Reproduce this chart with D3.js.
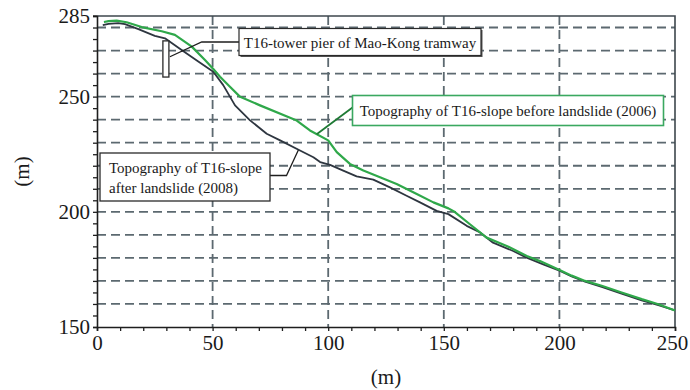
<!DOCTYPE html>
<html>
<head>
<meta charset="utf-8">
<script src="https://cdn.jsdelivr.net/npm/d3@7"></script>
<style>
  html, body { margin: 0; padding: 0; background: #ffffff; }
  svg { display: block; }
  text { font-family: "Liberation Serif", "Times New Roman", serif; fill: #1a1a1a; }
</style>
</head>
<body>
<svg id="chart" width="690" height="390"></svg>
<script>
// Slope profile before the landslide (2006): horizontal distance (m) and elevation (m)
const beforeDist = [3, 5, 8.5, 12.8, 19.3, 28, 33.7, 41, 46.7, 50.3, 53.2, 57.5, 61.9, 70.5, 83.5, 86.4,
  92.1, 100, 103.7, 109.4, 115.2, 122.4, 129.6, 138.3, 145.5, 152, 154.8, 161.3, 168.5, 177.2, 185.9,
  191.6, 200.3, 205.3, 211.1, 218.3, 226.9, 235.6, 242.8, 250];
const beforeElev = [282.4, 282.8, 283, 282.3, 280.2, 278.4, 276.8, 271.7, 265.9, 262, 258.6, 254.3, 249.9,
  246.2, 240.8, 239.6, 235.3, 231, 225.9, 220.8, 217.9, 215, 212.1, 207.7, 204.1, 201.5, 199.9, 194.6,
  188.8, 185.2, 180.8, 178.6, 174.6, 172.3, 170, 167.9, 165, 162.1, 159.9, 157.2];

// Slope profile after the landslide (2008)
const afterDist = [2.5, 5, 9.2, 12.1, 17.9, 25, 29.4, 36.6, 43.8, 50.3, 54.6, 59.7, 66.2, 73.4, 79.2,
  87.8, 93.6, 96.5, 100.8, 106.5, 112.3, 119.5, 126.7, 133.9, 139.7, 146.9, 152, 159.9, 165.7, 171.3,
  180, 185.8, 193, 200.3, 205.3, 211.1, 218.3, 226.9, 235.6, 242.8, 250];
const afterElev = [281, 281.6, 281.9, 281.5, 279.3, 276.4, 275.3, 270.2, 265.2, 260.8, 255, 246.2, 239.7,
  233.9, 231, 226.6, 223.7, 221.6, 220.4, 217.9, 215.4, 214, 210.6, 207, 204.1, 200.4, 199, 193.9, 191,
  186.6, 183, 180.1, 177.2, 174.3, 172, 169.7, 167.4, 164.5, 161.6, 159.5, 157.2];

// Axis tick labels and grid positions
const xTickLabels = [0, 50, 100, 150, 200, 250];
const xMinorTicks = d3.range(0, 251, 10);
const xGridLines = [50, 100, 150, 200];
const yTickLabels = [150, 200, 250, 285];
const yMinorTicks = d3.range(150, 286, 5);
const yGridLines = d3.range(160, 281, 10);

// Annotation texts and their anchor points (in data units)
const pierLabel = "T16-tower pier of Mao-Kong tramway";
const pierRange = { x0: 28.5, x1: 31.1, y0: 258.5, y1: 274.2 };
const beforeLabel = "Topography of T16-slope before landslide (2006)";
const beforeAnchor = { x: 95, y: 233.7 };
const afterLabel = ["Topography of T16-slope", "after landslide (2008)"];
const afterAnchor = { x: 87.1, y: 226.8 };

const svg = d3.select("#chart");
const plotLeft = 97, plotRight = 675, plotTop = 16, plotBottom = 327;

const x = d3.scaleLinear().domain([0, 250]).range([plotLeft, plotRight]);
const y = d3.scaleLinear().domain([150, 285]).range([plotBottom, plotTop]);

const gridColor = "#5c6970";
const green = "#2fa84a";
const dark = "#2e3640";

// Dashed grid
svg.append("g").selectAll("line").data(yGridLines).join("line")
  .attr("x1", plotLeft).attr("x2", plotRight)
  .attr("y1", d => y(d)).attr("y2", d => y(d))
  .attr("stroke", gridColor).attr("stroke-width", 1.8).attr("stroke-dasharray", "9,5");
svg.append("g").selectAll("line").data(xGridLines).join("line")
  .attr("x1", d => x(d)).attr("x2", d => x(d))
  .attr("y1", plotTop).attr("y2", plotBottom)
  .attr("stroke", gridColor).attr("stroke-width", 1.8).attr("stroke-dasharray", "9,5");

// Top and right frame
svg.append("path")
  .attr("d", `M${plotLeft},${plotTop}H${plotRight}V${plotBottom}`)
  .attr("fill", "none").attr("stroke", "#3e474d").attr("stroke-width", 1.6);

// Axes
const xAxis = svg.append("g").attr("transform", `translate(0,${plotBottom})`)
  .call(d3.axisBottom(x).tickValues(xMinorTicks).tickSize(4)
    .tickFormat(d => xTickLabels.includes(d) ? d : ""));
const yAxis = svg.append("g").attr("transform", `translate(${plotLeft},0)`)
  .call(d3.axisLeft(y).tickValues(yMinorTicks).tickSize(4)
    .tickFormat(d => yTickLabels.includes(d) ? d : ""));
[xAxis, yAxis].forEach(g => {
  g.select(".domain").attr("stroke", "#1e1e1e").attr("stroke-width", 1.6);
  g.selectAll(".tick line").attr("stroke", "#1e1e1e").attr("stroke-width", 1.3);
  g.selectAll(".tick text").attr("font-family", "Liberation Serif, Times New Roman, serif")
    .attr("font-size", 21).attr("fill", "#1a1a1a");
});
// Extra tick mark at the top of the y axis
yAxis.append("line").attr("x1", -4).attr("x2", 0).attr("y1", y(285)).attr("y2", y(285))
  .attr("stroke", "#1e1e1e").attr("stroke-width", 1.3);
xAxis.selectAll(".tick text").attr("dy", "0.95em").attr("y", 3)
  .attr("dx", d => d === 250 ? -3 : 0);
yAxis.selectAll(".tick text").attr("x", -7);

// Axis titles
svg.append("text").attr("x", x(125)).attr("y", 384).attr("text-anchor", "middle")
  .attr("font-size", 21).text("(m)");
svg.append("text").attr("transform", `translate(29,${(plotTop + plotBottom) / 2}) rotate(-90)`)
  .attr("text-anchor", "middle").attr("font-size", 21).text("(m)");

// Profiles
const line = d3.line().x(d => x(d[0])).y(d => y(d[1])).curve(d3.curveLinear);
const afterPts = d3.zip(afterDist, afterElev);
const beforePts = d3.zip(beforeDist, beforeElev);
svg.append("path").datum(afterPts).attr("d", line)
  .attr("fill", "none").attr("stroke", dark).attr("stroke-width", 1.8).attr("stroke-linejoin", "round");
svg.append("path").datum(beforePts).attr("d", line)
  .attr("fill", "none").attr("stroke", green).attr("stroke-width", 2.2).attr("stroke-linejoin", "round");

// Tower pier marker
svg.append("rect")
  .attr("x", x(pierRange.x0)).attr("y", y(pierRange.y1))
  .attr("width", x(pierRange.x1) - x(pierRange.x0)).attr("height", y(pierRange.y0) - y(pierRange.y1))
  .attr("fill", "#ffffff").attr("stroke", "#2a2a2a").attr("stroke-width", 1.3);

// Pier annotation
const box1 = { x: 239, y: 28.5, w: 242, h: 27 };
svg.append("path")
  .attr("d", `M${box1.x},${box1.y + 13.5}H${x(45.3)}L${x(pierRange.x1) + 1},${y(267.3)}`)
  .attr("fill", "none").attr("stroke", "#1e1e1e").attr("stroke-width", 1.3);
svg.append("rect").attr("x", box1.x + 1.5).attr("y", box1.y + 1.5).attr("width", box1.w).attr("height", box1.h)
  .attr("fill", "#555");
svg.append("rect").attr("x", box1.x).attr("y", box1.y).attr("width", box1.w).attr("height", box1.h)
  .attr("fill", "#ffffff").attr("stroke", "#2a2a2a").attr("stroke-width", 1.2);
svg.append("text").attr("x", box1.x + box1.w / 2).attr("y", box1.y + 19)
  .attr("text-anchor", "middle").attr("font-size", 15).text(pierLabel);

// Before-landslide annotation
const box2 = { x: 352.5, y: 95.5, w: 311, h: 30 };
svg.append("line")
  .attr("x1", box2.x).attr("y1", box2.y + 12)
  .attr("x2", x(beforeAnchor.x)).attr("y2", y(beforeAnchor.y))
  .attr("stroke", "#1f7a35").attr("stroke-width", 1.8);
svg.append("rect").attr("x", box2.x).attr("y", box2.y).attr("width", box2.w).attr("height", box2.h)
  .attr("fill", "#ffffff").attr("stroke", "#3aa860").attr("stroke-width", 1.6);
svg.append("text").attr("x", box2.x + box2.w / 2).attr("y", box2.y + 20)
  .attr("text-anchor", "middle").attr("font-size", 15).text(beforeLabel);

// After-landslide annotation
const box3 = { x: 100, y: 153, w: 170, h: 48 };
svg.append("path")
  .attr("d", `M${box3.x + box3.w},${box3.y + 22.5}H${box3.x + box3.w + 16.5}L${x(afterAnchor.x)},${y(afterAnchor.y)}`)
  .attr("fill", "none").attr("stroke", "#1e1e1e").attr("stroke-width", 1.3);
svg.append("rect").attr("x", box3.x).attr("y", box3.y).attr("width", box3.w).attr("height", box3.h)
  .attr("fill", "#ffffff").attr("stroke", "#2a2a2a").attr("stroke-width", 1.3);
svg.append("text").attr("font-size", 15)
  .selectAll("tspan").data(afterLabel).join("tspan")
  .attr("x", box3.x + 9).attr("y", (d, i) => box3.y + 20 + i * 19.5).text(d => d);
</script>
</body>
</html>
